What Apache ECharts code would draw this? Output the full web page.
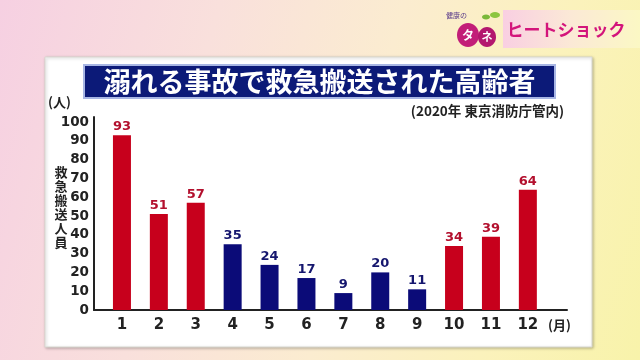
<!DOCTYPE html>
<html><head><meta charset="utf-8">
<script src="https://cdn.jsdelivr.net/npm/echarts@6/dist/echarts.min.js"></script>
<style>
html,body{margin:0;padding:0;}
body{width:640px;height:360px;overflow:hidden;background:linear-gradient(105deg,#f6d0e2 0%,#f9e0dc 30%,#fbecd0 55%,#fbf2bc 78%,#f8f3aa 100%);}
#c{width:640px;height:360px;}
</style></head>
<body><div id="c"></div>
<script>
// ---- data ----
const months = ['1','2','3','4','5','6','7','8','9','10','11','12'];
const transported = [93, 51, 57, 35, 24, 17, 9, 20, 11, 34, 39, 64];
const season = ['cold','cold','cold','warm','warm','warm','warm','warm','warm','cold','cold','cold'];
const yTicks = [0,10,20,30,40,50,60,70,80,90,100];
const titleText = '溺れる事故で救急搬送された高齢者';
const sourceText = '(2020年 東京消防庁管内)';
const yUnit = '(人)';
const xUnit = '(月)';
const yName = '救急搬送人員';

const RED = '#c7001c', NAVY = '#0b0b78';
const RED_T = '#b3102e', NAVY_T = '#15166e';
const NUMF = '"DejaVu Sans", Verdana, sans-serif';
const JPF = '"Noto Sans CJK JP", sans-serif';

const chart = echarts.init(document.getElementById('c'), null, {renderer:'canvas'});
const barData = transported.map((v,i)=>({
  value: v,
  itemStyle:{color: season[i]==='cold'?RED:NAVY},
  label:{color: season[i]==='cold'?RED_T:NAVY_T}
}));

chart.setOption({
  backgroundColor:'transparent',
  animation:false,
  graphic:[
    // logo banner
    {type:'rect', shape:{x:503,y:10,width:137,height:38},
     style:{fill:new echarts.graphic.LinearGradient(0,0,1,0,[{offset:0,color:'#f9cfe2'},{offset:0.5,color:'#fbe9d6'},{offset:1,color:'#fbf8c4'}])}, z:1},
    {type:'text', x:566, y:30, style:{text:'ヒートショック', fill:'#d3147b', font:'bold 17px '+JPF, align:'center', verticalAlign:'middle'}, z:3},
    {type:'ellipse', shape:{cx:468,cy:35,rx:11,ry:12}, style:{fill:'#c21e78'}, z:2},
    {type:'ellipse', shape:{cx:487,cy:37,rx:9,ry:10}, style:{fill:'#b3176e'}, z:2},
    {type:'text', x:468, y:35, style:{text:'タ', fill:'#fff', font:'bold 12px '+JPF, align:'center', verticalAlign:'middle'}, z:3},
    {type:'text', x:487, y:37, style:{text:'ネ', fill:'#fff', font:'bold 11px '+JPF, align:'center', verticalAlign:'middle'}, z:3},
    {type:'text', x:446, y:12, style:{text:'健康の', fill:'#5a3b8a', font:'7px '+JPF}, z:3},
    {type:'ellipse', shape:{cx:486,cy:17,rx:4,ry:2.5}, style:{fill:'#7ab83a'}, z:3},
    {type:'ellipse', shape:{cx:495,cy:15,rx:5,ry:3}, style:{fill:'#8cc63f'}, z:3},
    // white panel
    {type:'rect', shape:{x:45,y:57,width:547,height:290},
     style:{fill:'#ffffff', stroke:'#d8d8d0', lineWidth:1, shadowBlur:3, shadowColor:'rgba(0,0,0,0.25)', shadowOffsetX:1, shadowOffsetY:1}, z:-10},
    // title box
    {type:'rect', shape:{x:84,y:65,width:471,height:33},
     style:{fill:'#0c1a78', stroke:'#a8b6e4', lineWidth:2}, z:5},
    {type:'text', x:319.5, y:82, style:{text:titleText, fill:'#ffffff', font:'bold 27px '+JPF, align:'center', verticalAlign:'middle'}, z:6},
    // units and notes
    {type:'text', x:48, y:102, style:{text:yUnit, fill:'#222', font:'bold 13px '+JPF, verticalAlign:'middle'}, z:5},
    {type:'text', x:564, y:111, style:{text:sourceText, fill:'#222', font:'bold 13.5px '+JPF, align:'right', verticalAlign:'middle'}, z:5},
    {type:'text', x:548, y:325, style:{text:xUnit, fill:'#222', font:'bold 13px '+JPF, verticalAlign:'middle'}, z:5},
    {type:'text', x:61, y:207, style:{text:yName.split('').join('\n'), fill:'#222', font:'bold 13px '+JPF, align:'center', verticalAlign:'middle', lineHeight:14}, z:5}
  ],
  grid:[
    {left:103.5, width:442.8, top:122, height:188},
    {left:94, width:473, top:117, height:193}
  ],
  xAxis:[
    {type:'category', gridIndex:0, data:months,
     axisLine:{show:false}, axisTick:{show:false},
     axisLabel:{color:'#222', fontFamily:NUMF, fontWeight:'bold', fontSize:15, margin:8}},
    {type:'value', gridIndex:1, min:0, max:1,
     axisLine:{show:true, lineStyle:{color:'#222', width:2}}, axisTick:{show:false},
     axisLabel:{show:false}, splitLine:{show:false}}
  ],
  yAxis:[
    {type:'value', gridIndex:0, min:0, max:100, interval:10, offset:9.5,
     axisLine:{show:false}, axisTick:{show:false}, splitLine:{show:false},
     axisLabel:{color:'#222', fontFamily:NUMF, fontWeight:'bold', fontSize:13.5, margin:5,
       formatter:v=>yTicks.includes(v)?String(v):''}},
    {type:'value', gridIndex:1, min:0, max:1,
     axisLine:{show:true, lineStyle:{color:'#222', width:2}}, axisTick:{show:false},
     axisLabel:{show:false}, splitLine:{show:false}}
  ],
  series:[
    {type:'bar', xAxisIndex:0, yAxisIndex:0, data:barData, barWidth:18,
     label:{show:true, position:'top', distance:2, fontFamily:NUMF, fontWeight:'bold', fontSize:13}}
  ]
});
</script>
</body></html>
